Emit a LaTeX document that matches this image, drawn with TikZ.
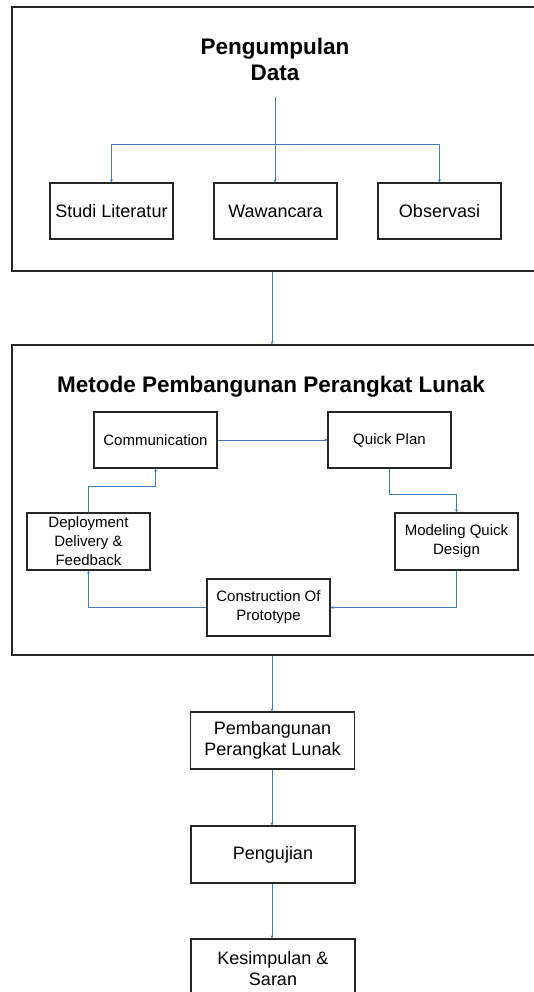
\documentclass[tikz,border=0pt]{standalone}
\usepackage{fontspec}
\setmainfont{Liberation Sans}
\usetikzlibrary{arrows.meta}
\definecolor{connc}{RGB}{65,125,185}
\begin{document}
\begin{tikzpicture}[x=1pt,y=-1pt,
  box/.style={draw=black!85,line width=1.3pt,rectangle,inner sep=0pt,align=center},
  bigbox/.style={box,minimum width=123pt,minimum height=56pt,font=\fontsize{18}{21}\selectfont},
  smallbox/.style={box,minimum width=123pt,minimum height=56pt,font=\fontsize{15}{19}\selectfont},
  wide/.style={box,minimum width=164pt,minimum height=57pt,font=\fontsize{18}{21}\selectfont},
  outer/.style={box,minimum width=533pt},
  ttl/.style={font=\fontsize{22.5}{26}\selectfont\bfseries,align=center,inner sep=0pt},
  arr/.style={draw=connc,line width=1pt,-{Stealth[length=3pt,width=3pt]}},
  ln/.style={draw=connc,line width=1pt}]
\useasboundingbox (0,0) rectangle (534,992);
\clip (0,0) rectangle (534,992);
% outer boxes
\node[outer,minimum height=264pt] (pd) at (278.5,139) {};
\node[outer,minimum height=310pt] (mp) at (278.5,500) {};
% titles
\node[ttl] (t1) at (275,59) {Pengumpulan\\Data};
\node[ttl] (t2) at (271,387) {Metode Pembangunan Perangkat Lunak};
% data collection
\node[bigbox] (studi) at (111.5,211) {Studi Literatur};
\node[bigbox] (waw) at (275.5,211) {Wawancara};
\node[bigbox] (obs) at (439.5,211) {Observasi};
\coordinate (top) at (275,97);
\coordinate (split) at (275,145);
\draw[ln] (top) -- (split);
\draw[arr] (split) -| (studi.north);
\draw[arr] (split) -- (split |- waw.north);
\draw[arr] (split) -| (obs.north);
% prototype cycle
\node[smallbox] (comm) at (155.5,440) {Communication};
\node[smallbox] (qp) at (389.5,440) {Quick Plan};
\node[smallbox,minimum height=57pt] (mod) at (456.5,541.5) {Modeling Quick\\Design};
\node[smallbox,minimum height=57pt] (con) at (268.5,607.5) {Construction Of\\Prototype};
\node[smallbox,minimum height=57pt] (dep) at (88.5,541.5) {Deployment\\Delivery \&\\Feedback};
\draw[arr] (comm.east) -- (qp.west);
\draw[arr] (qp.south) -- ++(0,26) -| (mod.north);
\draw[arr] (mod.south) |- (con.east);
\draw[arr] (con.west) -| (dep.south);
\draw[arr] (dep.north) -- ++(0,-26) -| (comm.south);
% lower flow
\node[wide] (pemb) at (272.5,740.5) {Pembangunan\\Perangkat Lunak};
\node[wide] (peng) at (273,854.5) {Pengujian};
\node[wide,minimum height=59pt] (kes) at (273,968.5) {Kesimpulan \&\\Saran};
\coordinate (xl) at (272,0);
\draw[arr] (pd.south -| xl) -- (mp.north -| xl);
\draw[arr] (mp.south -| xl) -- (pemb.north -| xl);
\draw[arr] (pemb.south -| xl) -- (peng.north -| xl);
\draw[arr] (peng.south -| xl) -- (kes.north -| xl);
\end{tikzpicture}
\end{document}
